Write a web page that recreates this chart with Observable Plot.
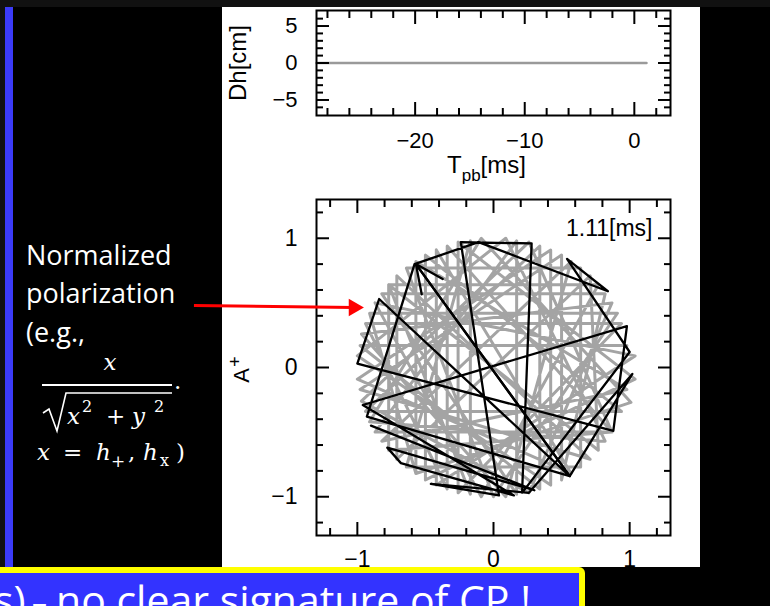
<!DOCTYPE html>
<html>
<head>
<meta charset="utf-8">
<script src="https://cdn.jsdelivr.net/npm/d3@7"></script>
<script src="https://cdn.jsdelivr.net/npm/@observablehq/plot@0.6"></script>
<style>
  html, body { margin: 0; padding: 0; }
  body { width: 770px; height: 606px; background: #000; overflow: hidden; position: relative; font-family: "Liberation Sans", sans-serif; }
  #strip { position: absolute; left: 0; top: 0; width: 770px; height: 7px; background: #111; }
  #edge { position: absolute; left: 0; top: 7px; width: 5px; height: 560px; background: #111; }
  #bar { position: absolute; left: 5px; top: 7px; width: 8px; height: 560px; background: #3b3bf8; }
  #panel { position: absolute; left: 222px; top: 7px; width: 478px; height: 560px; background: #fff; }
  #strain, #polar { position: absolute; left: 0; }
  #strain { top: 7px; }
  #polar { top: 180px; }
  #slide { position: absolute; left: 0; top: 0; pointer-events: none; }
</style>
</head>
<body>
<div id="strip"></div>
<div id="edge"></div>
<div id="bar"></div>
<div id="panel"></div>
<div id="strain"></div>
<div id="polar"></div>

<svg id="slide" width="770" height="606">
  <g fill="#fff" font-family="Open Sans" font-size="27">
    <text x="26" y="265">Normalized</text>
    <text x="26" y="303">polarization</text>
    <text x="26" y="342">(e.g.,</text>
  </g>
  <g fill="#fff" font-family="DejaVu Serif" font-size="23">
    <text x="110" y="370" font-style="italic" text-anchor="middle">x</text>
    <line x1="42" x2="172" y1="385" y2="385" stroke="#fff" stroke-width="1.8"></line>
    <text x="174" y="389">.</text>
    <path d="M43,413 L49,409 L57,431 L66,393 L172,393" fill="none" stroke="#fff" stroke-width="1.6"></path>
    <text y="424"><tspan x="67" font-style="italic">x</tspan><tspan x="82" y="412" font-size="16">2</tspan><tspan x="106" y="424">+</tspan><tspan x="132" font-style="italic">y</tspan><tspan x="154" y="412" font-size="16">2</tspan></text>
    <text y="460"><tspan x="37" font-style="italic">x</tspan><tspan x="63">=</tspan><tspan x="96" font-style="italic">h</tspan><tspan x="111" y="467" font-size="17">+</tspan><tspan x="128" y="460">,</tspan><tspan x="143" font-style="italic">h</tspan><tspan x="160" y="466" font-size="16">x</tspan><tspan x="176" y="460">)</tspan></text>
  </g>
  <text x="447" y="173" font-family="Liberation Sans" font-size="24" fill="#000">T<tspan font-size="17" dy="8">pb</tspan><tspan dy="-8">[ms]</tspan></text>
  <rect x="-6" y="570" width="588" height="60" rx="3" fill="#3333ff" stroke="#ffff00" stroke-width="6"></rect>
  <g font-family="Open Sans" font-size="41" fill="#fff">
    <text x="-6" y="615">s)</text>
    <text x="32" y="613" font-size="30">–</text>
    <text x="56" y="615">no clear signature of CP !</text>
  </g>
</svg>

<script>
// ---- strain amplitude vs post-bounce time ----
const pbTime = [-29, 1.11];
const dhValue = [0, 0];
const tMajor = [-20, -10, 0];
const tMinor = [-28, -26, -24, -22, -18, -16, -14, -12, -8, -6, -4, -2, 2];
const dhMajor = [-5, 0, 5];
const dhMinor = [-6, -4, -3, -2, -1, 1, 2, 3, 4, 6];

// ---- normalized polarization (A_x, A_+) trajectory ----
const grayX = [0.98, -0.98, 0.34, 0.34, -0.94, 0.94, -0.50, -0.50, 1.04, -0.26, -0.26, 0.94, -0.94, -0.34, -0.34, 0.87, -0.87, 0.17, 0.17, -0.82, 0.82, 0.50, 0.50, -0.98, 0.71, -0.71, -0.71, 0.71, 0.77, -0.77, -0.17, -0.17, -0.64, 0.64, 0.64, -0.64, 0.00, 0.91, -0.91, -0.57, 1.01, -0.09, -0.91, 0.82, 0.09, -1.00, 0.42, 0.42, -1.00, 0.57, -0.42, -0.42, 1.04, -0.87, -0.09, 0.77, -0.77, -0.77, 0.87, 0.26, -0.97, 0.26, 0.87, -0.97, 0.09, 0.57, -0.82, 0.98, -0.57, -0.57];
const grayY = [0.17, 0.17, -0.94, 0.94, -0.34, -0.34, 0.87, -0.87, -0.09, 0.97, -0.97, 0.34, 0.34, -0.94, 0.94, -0.50, -0.50, 0.98, -0.98, 0.57, 0.57, -0.87, 0.87, -0.17, -0.71, 0.71, -0.71, 0.71, -0.64, 0.64, -0.98, 0.98, -0.77, -0.77, 0.77, 0.77, -1.00, 0.42, 0.42, -0.82, -0.27, 1.00, -0.42, -0.57, 1.00, 0.09, -0.91, 0.91, -0.09, -0.82, 0.91, -0.91, 0.09, 0.50, -1.00, 0.64, 0.64, -0.64, -0.50, 0.97, -0.26, -0.97, 0.50, 0.26, -1.00, 0.82, -0.57, -0.17, 0.82, -0.82];
const blackX = [-0.90, 0.30, -0.78, -0.68, 0.15, -0.96, 0.98, 0.88, -1.00, -0.84, 0.56, 1.02, 0.26, -0.46, 0.04, -0.24, 0.28, 0.21, 1.00, 0.54, 0.84, -0.11, -0.58, -0.93, 0.56, -0.57];
const blackY = [-0.45, -0.95, -0.62, -0.74, -0.99, -0.29, 0.32, -0.49, 0.03, 0.53, -0.84, -0.05, -0.97, -0.90, -0.99, 0.97, 0.96, -0.97, 0.12, 0.84, 0.59, 0.97, 0.80, -0.38, -0.84, 0.80];
const aMajor = [-1, 0, 1];
const aMinor = [-1.2, -0.8, -0.6, -0.4, -0.2, 0.2, 0.4, 0.6, 0.8, 1.2];

// pointer from the side note to the trajectory
const pointerX = [-2.2, -1.026];
const pointerY = [0.48, 0.465];

const minusFormat = d => (d < 0 ? "\u2212" + (-d) : String(d));

// inward ticks on all four sides of the frame
function frameTicks(xMajor, xMinor, yMajor, yMinor) {
  const t = {strokeWidth: 2, fill: "none", label: null};
  return [
    Plot.axisX(xMinor, {...t, anchor: "bottom", tickSize: -7}),
    Plot.axisX(xMajor, {...t, anchor: "bottom", tickSize: -13}),
    Plot.axisX(xMinor, {...t, anchor: "top", tickSize: -7}),
    Plot.axisX(xMajor, {...t, anchor: "top", tickSize: -13}),
    Plot.axisY(yMinor, {...t, anchor: "left", tickSize: -7}),
    Plot.axisY(yMajor, {...t, anchor: "left", tickSize: -13}),
    Plot.axisY(yMinor, {...t, anchor: "right", tickSize: -7}),
    Plot.axisY(yMajor, {...t, anchor: "right", tickSize: -13})
  ];
}

const svgStyle = {background: "transparent", overflow: "visible", fontFamily: "Liberation Sans", color: "black"};

const strainRows = pbTime.map((t, i) => ({t, dh: dhValue[i]}));
const strain = Plot.plot({
  width: 700, height: 165,
  marginLeft: 316, marginRight: 30, marginTop: 3, marginBottom: 57,
  x: {domain: [-29, 3.3]},
  y: {domain: [-7.1, 7.1]},
  style: svgStyle,
  marks: [
    Plot.line(strainRows, {x: "t", y: "dh", stroke: "#9a9a9a", strokeWidth: 2.5}),
    Plot.frame({stroke: "black", strokeWidth: 2}),
    ...frameTicks(tMajor, tMinor, dhMajor, dhMinor),
    Plot.axisX(tMajor, {anchor: "bottom", tickSize: 0, tickPadding: 17, fontSize: 22, label: null, tickFormat: minusFormat}),
    Plot.axisY(dhMajor, {anchor: "left", tickSize: 0, tickPadding: 19, fontSize: 22, label: null, tickFormat: minusFormat}),
    Plot.text(["Dh[cm]"], {frameAnchor: "left", textAnchor: "middle", rotate: -90, dx: -78, fontSize: 24})
  ]
});
document.getElementById("strain").append(strain);

const grayRows = grayX.map((x, i) => ({x, y: grayY[i]}));
const blackRows = blackX.map((x, i) => ({x, y: blackY[i]}));
const lastStep = [{a: blackRows[blackRows.length - 2], b: blackRows[blackRows.length - 1]}];

const polar = Plot.plot({
  width: 700, height: 390,
  marginLeft: 316, marginRight: 30, marginTop: 19, marginBottom: 35,
  x: {domain: [-1.3, 1.3]},
  y: {domain: [-1.3, 1.3]},
  style: svgStyle,
  marks: [
    Plot.line(grayRows, {x: "x", y: "y", stroke: "#a4a4a4", strokeWidth: 3}),
    Plot.line(blackRows, {x: "x", y: "y", stroke: "black", strokeWidth: 2.3}),
    Plot.arrow(lastStep, {x1: d => d.a.x, y1: d => d.a.y, x2: d => d.b.x, y2: d => d.b.y, stroke: "black", strokeWidth: 2.3, headLength: 20, headAngle: 50}),
    Plot.frame({stroke: "black", strokeWidth: 2}),
    ...frameTicks(aMajor, aMinor, aMajor, aMinor),
    Plot.axisX(aMajor, {anchor: "bottom", tickSize: 0, tickPadding: 15, fontSize: 23, label: null, tickFormat: minusFormat}),
    Plot.axisY(aMajor, {anchor: "left", tickSize: 0, tickPadding: 19, fontSize: 23, label: null, tickFormat: minusFormat}),
    Plot.text(["A"], {frameAnchor: "left", textAnchor: "middle", rotate: -90, dx: -75, dy: 8, fontSize: 22}),
    Plot.text(["+"], {frameAnchor: "left", textAnchor: "middle", rotate: -90, dx: -81, dy: -6, fontSize: 18}),
    Plot.text([`${pbTime[1]}[ms]`], {frameAnchor: "top-right", textAnchor: "end", dx: -18, dy: 20, fontSize: 23}),
    Plot.link([0], {x1: () => pointerX[0], y1: () => pointerY[0], x2: () => pointerX[1], y2: () => pointerY[1], stroke: "#ff0000", strokeWidth: 3}),
    Plot.dot([0], {x: () => pointerX[1], y: () => pointerY[1], symbol: "triangle", r: 6.5, rotate: 90, fill: "#ff0000", stroke: "none"})
  ]
});
document.getElementById("polar").append(polar);
</script>
</body>
</html>
